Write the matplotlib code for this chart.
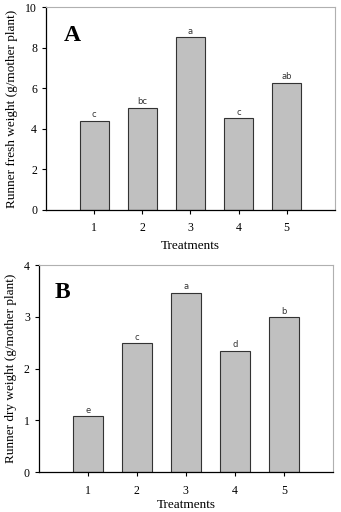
import matplotlib
matplotlib.use("Agg")
import matplotlib.pyplot as plt

plt.rcParams['font.family'] = ['Liberation Serif', 'DejaVu Serif']

treatments = [1, 2, 3, 4, 5]
fresh_weight = [4.38, 5.03, 8.52, 4.51, 6.28]
fresh_letters = ['c', 'bc', 'a', 'c', 'ab']
dry_weight = [1.08, 2.49, 3.47, 2.35, 2.99]
dry_letters = ['e', 'c', 'a', 'd', 'b']


def draw_panel(ax, values, letters, ylabel, ymax, yticks, tag, tag_pos, xpad):
    ax.bar(treatments, values, width=0.6, color='#c0c0c0',
           edgecolor='#333333', linewidth=0.8)
    for x, v, s in zip(treatments, values, letters):
        ax.text(x, v + ymax * 0.008, s, ha='center', va='bottom',
                fontsize=6, family='DejaVu Sans', color='#333333')
    ax.set_xlim(0, 6)
    ax.set_ylim(0, ymax)
    ax.set_xticks(treatments)
    ax.set_yticks(yticks)
    ax.set_xlabel('Treatments', fontsize=9.5, labelpad=xpad)
    ax.set_ylabel(ylabel, fontsize=9.5, labelpad=5)
    ax.tick_params(labelsize=8.5, length=3, width=0.8)
    ax.tick_params(axis='x', pad=6)
    for side in ['top', 'right']:
        ax.spines[side].set_color('#b0b0b0')
        ax.spines[side].set_linewidth(0.8)
    for side in ['left', 'bottom']:
        ax.spines[side].set_linewidth(0.9)
    ax.text(tag_pos[0], tag_pos[1], tag, transform=ax.transAxes,
            fontsize=17, fontweight='bold', ha='center', va='center')


fig = plt.figure(figsize=(3.41, 5.12), dpi=100)
ax1 = fig.add_axes([0.135, 0.590, 0.847, 0.396])
ax2 = fig.add_axes([0.114, 0.078, 0.862, 0.404])

draw_panel(ax1, fresh_weight, fresh_letters,
           'Runner fresh weight (g/mother plant)', 10, [0, 2, 4, 6, 8, 10],
           'A', (0.09, 0.86), 4)
draw_panel(ax2, dry_weight, dry_letters,
           'Runner dry weight (g/mother plant)', 4, [0, 1, 2, 3, 4],
           'B', (0.08, 0.87), 1.5)

fig.savefig('out.png', dpi=100)
